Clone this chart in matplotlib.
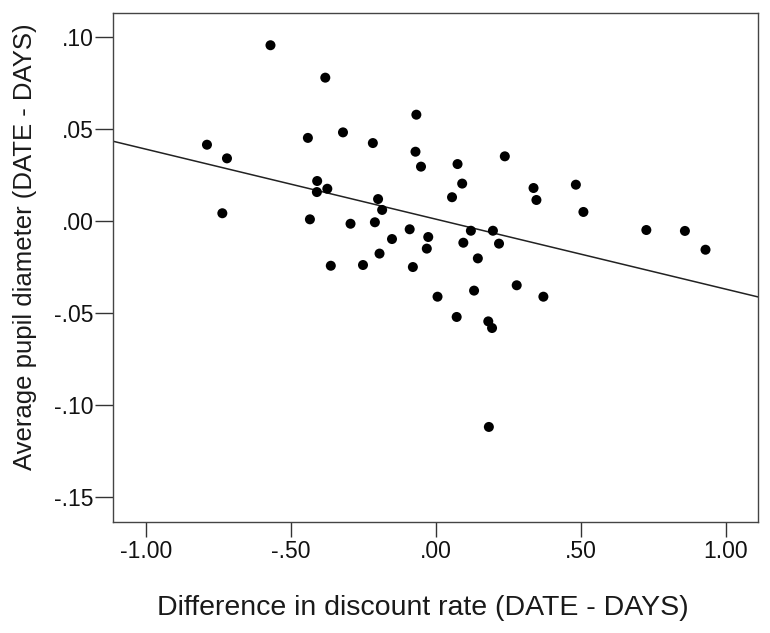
import matplotlib
matplotlib.use("Agg")
import matplotlib.pyplot as plt
from matplotlib.ticker import FuncFormatter

plt.rcParams['font.family'] = ['Liberation Sans', 'DejaVu Sans']

# Data
discount_diff = [-0.570, -0.381, -0.067, -0.789, -0.720, -0.441, -0.320, -0.217, -0.070, -0.051,
                 -0.409, -0.410, -0.374, -0.736, -0.199, -0.185, -0.434, -0.294, -0.210, -0.090,
                 -0.151, -0.026, -0.031, -0.194, -0.362, -0.251, -0.079,
                 0.238, 0.075, 0.091, 0.056, 0.337, 0.347, 0.483, 0.509, 0.726, 0.859, 0.930,
                 0.121, 0.197, 0.095, 0.218, 0.145,
                 0.006, 0.132, 0.279, 0.371, 0.072, 0.181, 0.194, 0.183]
pupil_diff = [0.0954, 0.0778, 0.0577, 0.0414, 0.0340, 0.0451, 0.0481, 0.0423, 0.0376, 0.0295,
              0.0217, 0.0157, 0.0175, 0.0042, 0.0119, 0.0060, 0.0009, -0.0015, -0.0007, -0.0045,
              -0.0098, -0.0087, -0.0150, -0.0177, -0.0243, -0.0239, -0.0250,
              0.0351, 0.0309, 0.0203, 0.0129, 0.0179, 0.0114, 0.0197, 0.0049, -0.0049, -0.0054, -0.0156,
              -0.0053, -0.0053, -0.0118, -0.0123, -0.0203,
              -0.0411, -0.0378, -0.0349, -0.0411, -0.0521, -0.0545, -0.0581, -0.1118]

fit_intercept = 0.0010
fit_slope = -0.0380

x_ticks = [-1.0, -0.5, 0.0, 0.5, 1.0]
y_ticks = [-0.15, -0.10, -0.05, 0.0, 0.05, 0.10]
x_limits = (-1.113, 1.111)
y_limits = (-0.1634, 0.1129)

fig = plt.figure(figsize=(7.70, 6.33), dpi=100)
ax = fig.add_axes([113/770, 1 - 522/633, 645/770, 509/633])

ax.scatter(discount_diff, pupil_diff, s=52, color='black', edgecolors='none', zorder=3)
ax.plot(list(x_limits), [fit_intercept + fit_slope * x for x in x_limits],
        color='#222222', linewidth=1.1, zorder=2)

ax.set_xlim(*x_limits)
ax.set_ylim(*y_limits)
ax.set_xticks(x_ticks)
ax.set_yticks(y_ticks)

def fmt(v, pos):
    s = f"{abs(v):.2f}"
    if s.startswith("0"):
        s = s[1:]
    return ("-" if v < -1e-9 else "") + s

ax.xaxis.set_major_formatter(FuncFormatter(fmt))
ax.yaxis.set_major_formatter(FuncFormatter(fmt))

ax.tick_params(axis='x', length=11, width=1, color='#333333', pad=2, labelsize=16.5, labelcolor='#111111')
ax.tick_params(axis='y', length=13, width=1, color='#333333', pad=1, labelsize=16.5, labelcolor='#111111')
for sp in ax.spines.values():
    sp.set_color('#444444')
    sp.set_linewidth(1.0)

ax.set_xlabel('Difference in discount rate (DATE - DAYS)', fontsize=20.5, color='#1a1a1a', va='center')
ax.set_ylabel('Average pupil diameter (DATE - DAYS)', fontsize=18.5, color='#1a1a1a', va='center')
ax.xaxis.set_label_coords(0.481, -0.169)
ax.yaxis.set_label_coords(-0.136, 0.540)

fig.savefig('out.png', dpi=100)
